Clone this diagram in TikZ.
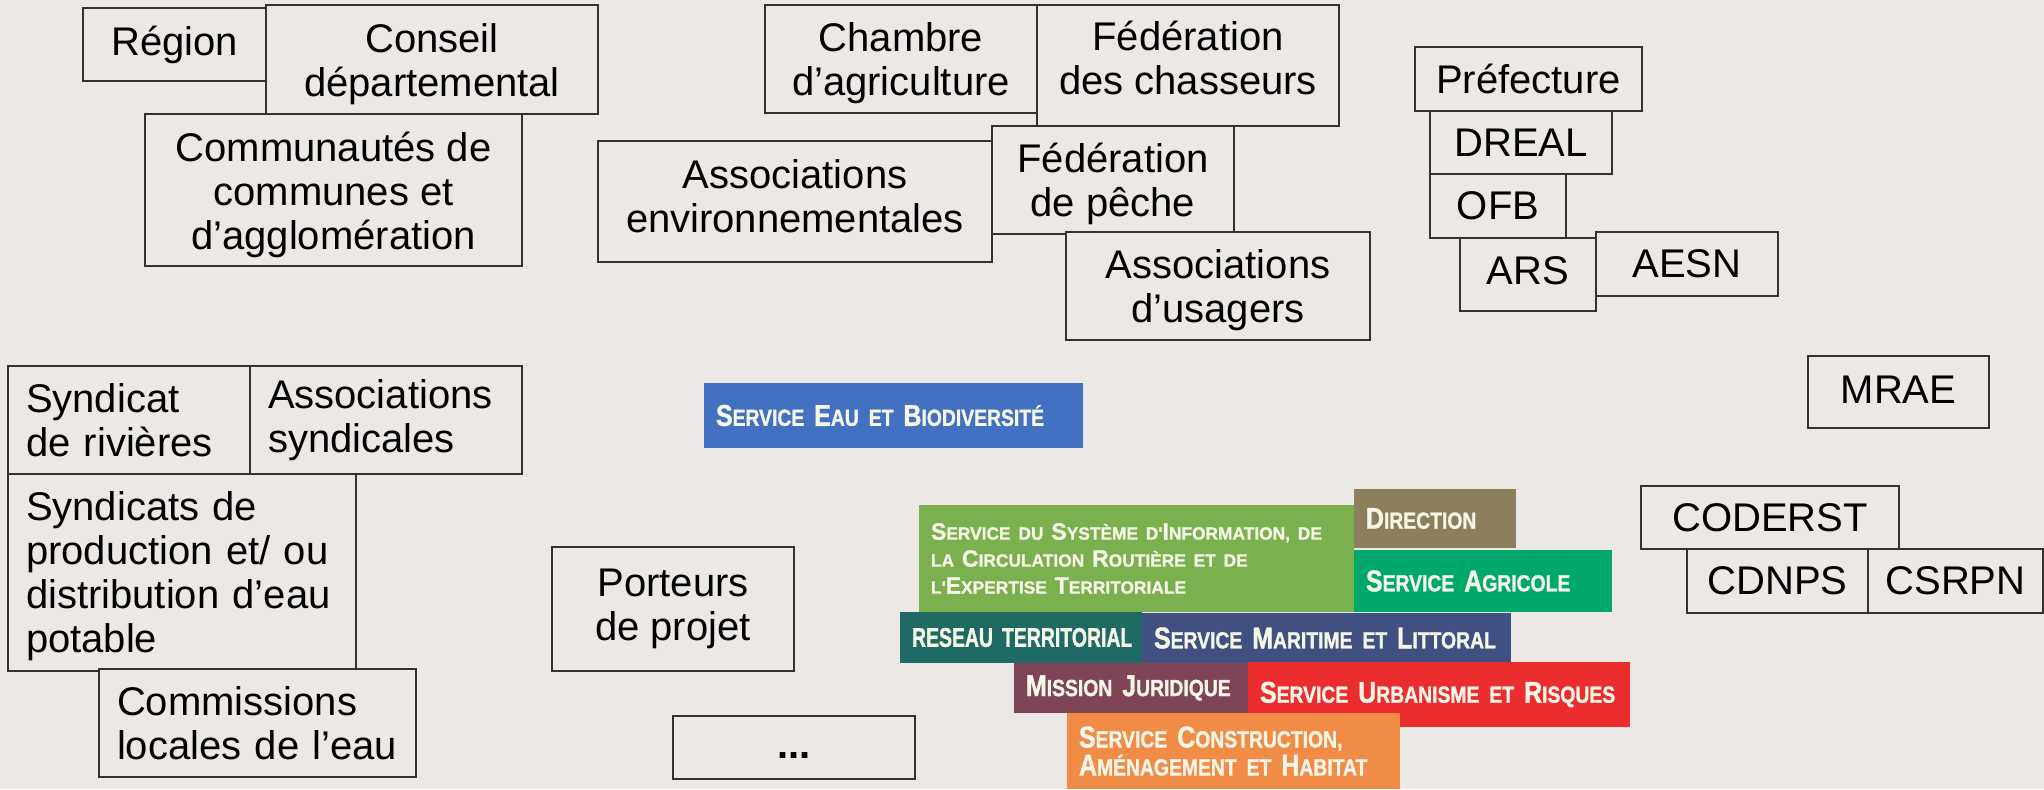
\documentclass[tikz,border=0pt]{standalone}
\usepackage{fontspec}
\setmainfont{Liberation Sans}
\newfontfamily\svcfont{Liberation Sans}[FakeStretch=0.83,FakeBold=1.2]
\newfontfamily\svcwide{Liberation Sans}[FakeStretch=0.98,FakeBold=1.2]
\newfontfamily\svcnarrow{Liberation Sans}[FakeStretch=0.72,FakeBold=1.2]
\usetikzlibrary{positioning}
\definecolor{bg}{RGB}{235,232,230}
\definecolor{boxline}{RGB}{50,50,50}
\definecolor{svctext}{RGB}{246,246,232}
\definecolor{sebio}{RGB}{66,113,194}
\definecolor{ssi}{RGB}{122,176,78}
\definecolor{direction}{RGB}{140,127,91}
\definecolor{agricole}{RGB}{0,168,107}
\definecolor{reseau}{RGB}{31,106,99}
\definecolor{maritime}{RGB}{64,80,128}
\definecolor{mission}{RGB}{126,68,87}
\definecolor{urbanisme}{RGB}{236,45,45}
\definecolor{construction}{RGB}{240,140,70}
\newcommand{\sml}[1]{{\fontsize{11.65}{11.65}\selectfont #1}}
\newcommand{\smll}[1]{{\fontsize{8.85}{8.85}\selectfont #1}}
\tikzset{%
	box/.style  = {draw=boxline, fill=bg, line width=0.75pt, inner sep=0pt, align=center, font=\fontsize{20}{22}\selectfont},
	boxl/.style = {box, align=left, inner xsep=9pt},
	svc/.style  = {inner xsep=6pt, inner ysep=0pt, align=left, text=svctext, font=\svcfont\bfseries\fontsize{15}{14}\selectfont},
}
\begin{document}
\begin{tikzpicture}[x=0.5pt,y=-0.5pt]
	\useasboundingbox (0,0) rectangle (2044,789);
	\fill[bg] (0,0) rectangle (2044,789);
	% collectivites
	\node[box, minimum width=91.5pt, minimum height=36.5pt] (region) at (174.5,44.5) {Région};
	\node[box, minimum width=166pt, minimum height=54.5pt, text height=41.1pt] (conseil) at (432,59.5) {Conseil\\départemental};
	\node[box, minimum width=188.5pt, minimum height=76pt, text height=63.9pt] (communautes) at (333.5,190) {Communautés de\\communes et\\d’agglomération};
	% chambres, federations, associations
	\node[box, minimum width=136pt, minimum height=54pt, text height=40.6pt] (chambre) at (901,59) {Chambre\\d’agriculture};
	\node[box, minimum width=151pt, minimum height=60.5pt, text height=28.9pt] (chasseurs) at (1188,65.5) {Fédération\\des chasseurs};
	\node[box, minimum width=197pt, minimum height=60.5pt, text height=31.6pt] (assocenv) at (795,201.5) {Associations\\environnementales};
	\node[box, minimum width=121pt, minimum height=54pt, text height=40.9pt] (peche) at (1113,180) {Fédération\\de pêche};
	\node[box, minimum width=152pt, minimum height=54pt, text height=40.6pt] (usagers) at (1218,286) {Associations\\d’usagers};
	% etat
	\node[box, minimum width=113.5pt, minimum height=32pt] (prefecture) at (1528.5,79) {Préfecture};
	\node[box, minimum width=91pt, minimum height=31.5pt] (dreal) at (1521,142.5) {DREAL};
	\node[box, minimum width=68pt, minimum height=32pt] (ofb) at (1498,206) {OFB};
	\node[box, minimum width=68pt, minimum height=36.5pt, text height=10.3pt] (ars) at (1528,274.5) {ARS};
	\node[box, minimum width=91pt, minimum height=32pt] (aesn) at (1687,264) {AESN};
	\node[box, minimum width=90.5pt, minimum height=36pt, text height=11.7pt] (mrae) at (1898.5,392) {MRAE};
	\node[box, minimum width=129pt, minimum height=31.5pt] (coderst) at (1770,517.5) {CODERST};
	\node[box, minimum width=90.5pt, minimum height=32pt] (cdnps) at (1777.5,581) {CDNPS};
	\node[box, minimum width=87.5pt, minimum height=32pt] (csrpn) at (1955.5,581) {CSRPN};
	% syndicats
	\node[boxl, text width=103pt, minimum height=54pt] (rivieres) at (129,420) {Syndicat\\de rivières};
	\node[boxl, text width=118pt, minimum height=54pt] (assocsynd) at (386,420) {Associations\\syndicales};
	\node[boxl, text width=156pt, minimum height=98.5pt, text height=17.8pt] (eaupotable) at (182,572.5) {Syndicats de\\production et/ ou\\distribution d’eau\\potable};
	\node[boxl, text width=140.5pt, minimum height=54pt] (cle) at (257.5,723) {Commissions\\locales de l’eau};
	\node[box, minimum width=121pt, minimum height=62pt] (porteurs) at (673,609) {Porteurs\\de projet};
	\node[box, minimum width=121pt, minimum height=31.5pt, text height=11pt, text depth=0pt] (autres) at (794,747.5) {\textbf{...}};
	% services de la DDTM
	\node[svc, fill=sebio, text width=177.5pt, minimum height=32.5pt] (eau) at (893.5,415.5) {\mbox{S\sml{ERVICE} E\sml{AU ET} B\sml{IODIVERSITÉ}}};
	\node[svc, fill=ssi, text width=205.5pt, minimum height=53.5pt, font=\svcwide\bfseries\fontsize{11.75}{13.5}\selectfont] (sigcr) at (1136.5,558.5) {\mbox{S\smll{ERVICE DU} S\smll{YSTÈME D'}I\smll{NFORMATION, DE}}\\\mbox{\smll{LA} C\smll{IRCULATION} R\smll{OUTIÈRE ET DE}}\\\mbox{\smll{L'}E\smll{XPERTISE} T\smll{ERRITORIALE}}};
	\node[svc, fill=direction, text width=69pt, minimum height=29.5pt] (dir) at (1435,518.5) {\mbox{D\sml{IRECTION}}};
	\node[svc, fill=agricole, text width=117pt, minimum height=31pt] (agri) at (1483,581) {\mbox{S\sml{ERVICE} A\sml{GRICOLE}}};
	\node[svc, fill=reseau, text width=109pt, minimum height=25.5pt, font=\svcnarrow\bfseries\fontsize{13.5}{13.5}\selectfont] (rt) at (1021,637.5) {\mbox{RESEAU TERRITORIAL}};
	\node[svc, fill=maritime, text width=172.5pt, minimum height=25pt] (mer) at (1326.5,638) {\mbox{S\sml{ERVICE} M\sml{ARITIME ET} L\sml{ITTORAL}}};
	\node[svc, fill=mission, text width=105pt, minimum height=25pt] (juri) at (1131,688) {\mbox{M\sml{ISSION} J\sml{URIDIQUE}}};
	\node[svc, fill=urbanisme, text width=179pt, minimum height=32.5pt] (urba) at (1439,694.5) {\mbox{S\sml{ERVICE} U\sml{RBANISME ET} R\sml{ISQUES}}};
	\node[svc, fill=construction, text width=154.5pt, minimum height=38pt] (cah) at (1233.5,751) {\mbox{S\sml{ERVICE} C\sml{ONSTRUCTION,}}\\\mbox{A\sml{MÉNAGEMENT ET} H\sml{ABITAT}}};
\end{tikzpicture}
\end{document}
